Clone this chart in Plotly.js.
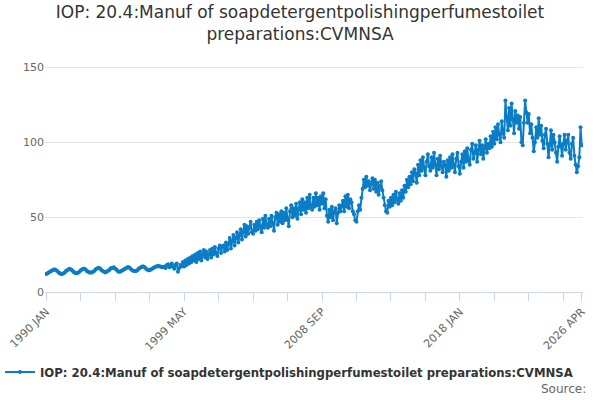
<!DOCTYPE html>
<html>
<head>
<script src="https://cdn.plot.ly/plotly-3.0.1.min.js"></script>
<style>body{margin:0}#chart{width:600px;height:400px}</style>
</head>
<body>
<div id="chart"></div>
<script>
var values = [
  12,12.5,13,13.5,14,14.5,15,15,14.5,14,13,12.5,
  12,12,12.5,13,14,14.5,15,15.5,15,14.5,13.5,13,
  12.5,12.5,13,13.5,14.5,15,15.5,15.5,15,14,13.5,13,
  13,13,13.5,14,15,15.5,16,16,15.5,14.5,14,13.5,
  13,13.5,14,14.5,15.5,16,16,16.5,15.5,15,14,13.5,
  13.5,14,14.5,15,15.5,16,16.5,16.5,16,15,14.5,14,
  14,14,14.5,15.5,16,16.5,17,17,16.5,15.5,15,14.5,
  14.5,15,15.5,16,16.5,17,17,17.5,17,17,16.5,16.5,
  17,16,18,18.5,16.5,17,19,17,15.5,18,19,13.5,
  16,18,17,20,17,21,18,22,19,23,20,24,
  21,25,20,26,22,27,21,25,28,23,27,22,
  25,28,23,29,25,30,26,24,29,31,26,30,
  31,27,33,28,32,36,29,34,38,31,36,40,
  33,38,42,35,40,45,37,44,39,43,47,40,
  39,45,41,47,42,48,44,40,49,43,51,45,
  43,49,44,51,46,41,50,53,45,52,47,54,
  46,53,48,56,49,44,54,58,50,56,51,59,
  49,56,60,52,62,55,60,53,63,56,65,57,
  55,63,57,66,58,63,55,64,59,66,56,62,
  51,47,55,50,57,48,54,56,46,53,58,54,
  57,61,54,64,57,65,56,62,60,54,52,48,
  47,54,58,55,63,69,75,70,77,71,74,68,
  72,76,69,75,67,73,65,71,74,68,63,58,
  54,53,61,57,63,58,65,60,67,62,59,66,
  61,68,63,71,67,75,70,77,72,80,74,82,
  79,73,85,78,88,81,90,83,78,87,92,84,
  81,90,83,93,85,78,89,82,91,84,80,87,
  85,77,88,81,90,83,92,85,80,89,93,84,
  79,87,92,83,94,87,96,88,85,95,99,89,
  93,98,87,95,101,92,98,89,96,102,93,99,
  96,104,97,107,99,110,102,112,105,100,114,106,
  103,128,117,108,123,111,126,115,106,121,113,118,
  109,117,100,98,113,128,120,113,119,106,112,103,
  94,100,110,103,116,105,111,101,96,105,109,99,
  90,98,108,95,105,100,93,87,97,104,98,91,
  99,105,95,101,105,93,89,99,103,91,85,80,
  84,90,110,98
];
var months = ["JAN","FEB","MAR","APR","MAY","JUN","JUL","AUG","SEP","OCT","NOV","DEC"];
var labels = [];
for (var i = 0; i < values.length; i++) {
  labels.push((1990 + Math.floor(i / 12)) + " " + months[i % 12]);
}
var idx = labels.map(function(_, i){ return i; });
var tickvals = [], ticktext = [];
for (var t = 0; t <= 420; t += 28) {
  tickvals.push(t);
  ticktext.push(t % 112 == 0 ? labels[t] : "");
}
tickvals.push(values.length - 1);
ticktext.push(labels[values.length - 1]);

var trace = {
  x: idx, y: values, type: "scatter", mode: "lines+markers",
  name: "IOP: 20.4:Manuf of soapdetergentpolishingperfumestoilet preparations:CVMNSA",
  line: {color: "#0b7dc6", width: 2},
  marker: {color: "#0b7dc6", size: 4},
  text: labels, hoverinfo: "text+y"
};
var layout = {
  width: 600, height: 400,
  margin: {l: 45, r: 17, t: 60, b: 108},
  title: {text: "IOP: 20.4:Manuf of soapdetergentpolishingperfumestoilet<br>preparations:CVMNSA",
          font: {family: "DejaVu Sans, sans-serif", size: 17, color: "#333"}, x: 0.5, y: 0.955},
  font: {family: "DejaVu Sans, sans-serif", size: 11, color: "#666"},
  xaxis: {range: [-1, values.length], tickvals: tickvals, ticktext: ticktext, tickangle: -45,
          showgrid: false, zeroline: false, showline: true, linecolor: "#ccd6eb",
          ticks: "outside", tickcolor: "#ccd6eb", ticklen: 8},
  yaxis: {range: [0, 155], tickvals: [0, 50, 100, 150], gridcolor: "#e6e6e6", zeroline: false},
  showlegend: true,
  legend: {orientation: "h", xref: "container", yref: "container", x: -0.01, y: 0.07, xanchor: "left", yanchor: "middle",
           itemwidth: 30, font: {size: 11.7, color: "#333", weight: "bold"}},
  annotations: [{text: "Source:", xref: "paper", yref: "paper", x: 1.01, y: -0.455, xanchor: "right",
                 showarrow: false, font: {size: 12, color: "#666"}}]
};
Plotly.newPlot("chart", [trace], layout, {displayModeBar: false});
</script>
</body>
</html>
